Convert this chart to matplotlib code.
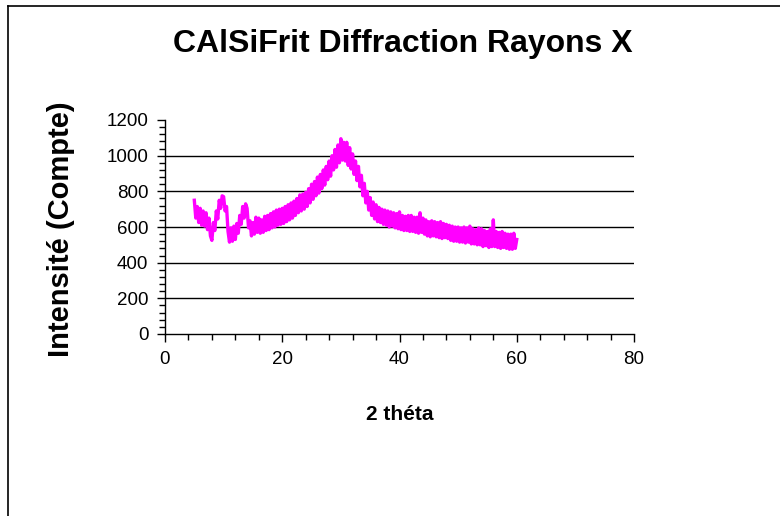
import numpy as np
import matplotlib
matplotlib.use("Agg")
import matplotlib.pyplot as plt
from matplotlib.lines import Line2D
from matplotlib.ticker import MultipleLocator

plt.rcParams['font.family'] = ['Liberation Sans', 'DejaVu Sans']
plt.rcParams['path.simplify'] = False

title = "CAlSiFrit Diffraction Rayons X"
x_label = "2 théta"
y_label = "Intensité (Compte)"

theta_start = 5.0
theta_step = 0.25
intensity = [
    750, 650, 715, 625,
    705, 610, 690, 605,
    680, 585, 650, 550,
    525, 625, 580, 690,
    645, 750, 705, 775,
    770, 690, 715, 575,
    515, 595, 520, 605,
    530, 620, 565, 665,
    615, 715, 650, 730,
    705, 595, 635, 550,
    625, 560, 655, 570,
    650, 565, 640, 570,
    660, 580, 665, 585,
    675, 595, 685, 600,
    695, 610, 700, 615,
    705, 620, 715, 630,
    725, 640, 735, 650,
    745, 665, 760, 680,
    780, 690, 785, 700,
    795, 715, 815, 735,
    840, 755, 855, 775,
    880, 790, 895, 815,
    920, 835, 940, 865,
    970, 885, 1000, 920,
    1035, 935, 1060, 960,
    1095, 975, 1075, 970,
    1075, 945, 1045, 925,
    1010, 895, 970, 860,
    940, 825, 890, 775,
    845, 735, 800, 695,
    765, 665, 740, 645,
    725, 630, 710, 625,
    700, 615, 695, 610,
    690, 600, 685, 605,
    680, 595, 675, 590,
    685, 585, 665, 580,
    660, 580, 665, 575,
    665, 575, 655, 570,
    655, 565, 680, 570,
    650, 560, 640, 550,
    630, 545, 635, 550,
    630, 545, 625, 540,
    630, 535, 620, 540,
    615, 535, 610, 525,
    605, 520, 600, 520,
    600, 515, 595, 515,
    600, 510, 595, 515,
    605, 505, 590, 505,
    585, 500, 595, 500,
    590, 490, 580, 495,
    575, 485, 590, 490,
    640, 490, 575, 485,
    570, 480, 575, 485,
    565, 480, 560, 475,
    560, 475, 565, 480,
    530,
]
theta = theta_start + theta_step * np.arange(len(intensity))

x_ticks = [0, 20, 40, 60, 80]
y_ticks = [0, 200, 400, 600, 800, 1000, 1200]

fig = plt.figure(figsize=(7.8, 5.16), dpi=100)
ax = fig.add_axes([165/780, 1-334/516, (634-165)/780, (334-120)/516])

ax.plot(theta, intensity, color='#FF00FF', lw=2.4, solid_joinstyle='round', zorder=3)

ax.set_xlim(0, 80)
ax.set_ylim(0, 1200)
ax.set_xticks(x_ticks)
ax.set_yticks(y_ticks)
ax.xaxis.set_minor_locator(MultipleLocator(4))
ax.yaxis.set_minor_locator(MultipleLocator(40))
for v in y_ticks[1:-1]:
    ax.axhline(v, color='black', lw=1.0, zorder=1)

for s in ['top', 'right']:
    ax.spines[s].set_visible(False)
for s in ['left', 'bottom']:
    ax.spines[s].set_color('black')
    ax.spines[s].set_linewidth(1.0)

ax.tick_params(axis='both', which='major', direction='out', length=6, width=1,
               labelsize=13.5, colors='black', pad=6)
ax.tick_params(axis='both', which='minor', direction='out', length=4, width=1, colors='black')

ax.set_xlabel(x_label, fontsize=15, fontweight='bold')
ax.xaxis.set_label_coords(0.5, -0.33)
ax.set_ylabel(y_label, fontsize=21, fontweight='bold')
ax.yaxis.set_label_coords(-0.192, 0.49)

fig.text(403/780, 1-44/516, title, ha='center', va='center', fontsize=23, fontweight='bold')

# chart border (left and top only visible)
bx = 8/780
by = 1-6/516
fig.add_artist(Line2D([bx, bx], [0, by], transform=fig.transFigure, color='black', lw=1.2))
fig.add_artist(Line2D([bx, 1], [by, by], transform=fig.transFigure, color='black', lw=1.2))

fig.savefig('out.png', dpi=100)
